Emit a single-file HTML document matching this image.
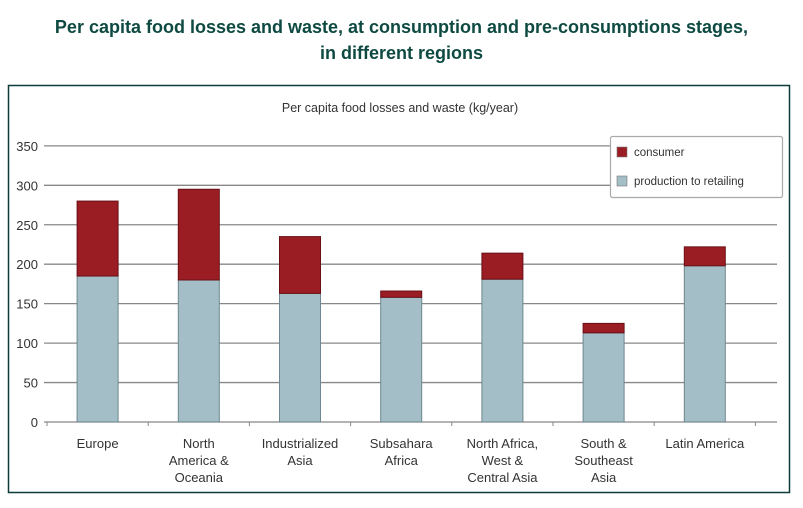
<!DOCTYPE html>
<html><head><meta charset="utf-8"><style>
body{margin:0;background:#fff;width:803px;height:508px;overflow:hidden;font-family:"Liberation Sans",sans-serif}
h1{position:absolute;left:0;top:14px;width:803px;margin:0;text-align:center;font-size:18px;line-height:26px;color:#0e4a42;font-weight:bold}
svg{position:absolute;left:0;top:0}
</style></head><body>
<h1>Per capita food losses and waste, at consumption and pre-consumptions stages,<br>in different regions</h1>
<svg id="c" width="803" height="508"></svg>
<script>
const categories=[["Europe"],["North","America &","Oceania"],["Industrialized","Asia"],["Subsahara","Africa"],["North Africa,","West &","Central Asia"],["South &","Southeast","Asia"],["Latin America"]];
const production=[185,180,163,158,181,113,198];
const consumer=[95,115,72,8,33,12,24];
const yTicks=[0,50,100,150,200,250,300,350];
const NS="http://www.w3.org/2000/svg";
const svg=document.getElementById('c');
function mk(t,a,p){const e=document.createElementNS(NS,t);for(const k in a)e.setAttribute(k,a[k]);(p||svg).appendChild(e);return e;}
const y=v=>422-v*0.789;
const x0=47,step=101.2,bw=41;
const cx=i=>x0+step*(i+0.5);
let r=mk('rect',{x:8.5,y:85.5,width:781,height:407,fill:'none',stroke:'#0d3b3a','stroke-width':1.5});


let t=mk('text',{x:400,y:112,'text-anchor':'middle','font-size':12.5,fill:'#333'});t.textContent="Per capita food losses and waste (kg/year)";


yTicks.forEach(v=>{
 const l=mk('line',{x1:44,x2:777,y1:y(v),y2:y(v),stroke:'#888','stroke-width':1.3});
 
 
 const tx=mk('text',{x:38,y:y(v)+5,'text-anchor':'end','font-size':13,fill:'#333'});tx.textContent=v;
 
 
});
for(let i=0;i<=categories.length;i++){
 const tk=mk('line',{x1:x0+step*i,x2:x0+step*i,y1:y(0),y2:y(0)+4,stroke:'#888'});
 
 
}
categories.forEach((c,i)=>{
 const b=mk('rect',{x:cx(i)-bw/2,y:y(production[i]),width:bw,height:y(0)-y(production[i]),fill:'#a3bec7',stroke:'#6e8790'});
 
 
 const tot=production[i]+consumer[i];
 const b2=mk('rect',{x:cx(i)-bw/2,y:y(tot),width:bw,height:y(production[i])-y(tot),fill:'#9b1d24',stroke:'#6a1015'});
 
 
 c.forEach((s,j)=>{
  const tl=mk('text',{x:cx(i),y:448+j*17,'text-anchor':'middle','font-size':13,fill:'#333'});tl.textContent=s;
  
  
 });
});
const g=mk('g',{});


mk('rect',{x:610.5,y:136.5,width:172,height:61,fill:'#fff',stroke:'#aaa','stroke-width':1.2,rx:2},g);
mk('rect',{x:617,y:147,width:10,height:10,fill:'#9b1d24',stroke:'#777','stroke-width':0.6},g);
mk('rect',{x:617,y:176,width:10,height:10,fill:'#a3bec7',stroke:'#777','stroke-width':0.6},g);
let l1=mk('text',{x:634,y:156,'font-size':11.5,fill:'#333'},g);l1.textContent="consumer";


let l2=mk('text',{x:634,y:185,'font-size':11.5,fill:'#333'},g);l2.textContent="production to retailing";


</script>
</body></html>
